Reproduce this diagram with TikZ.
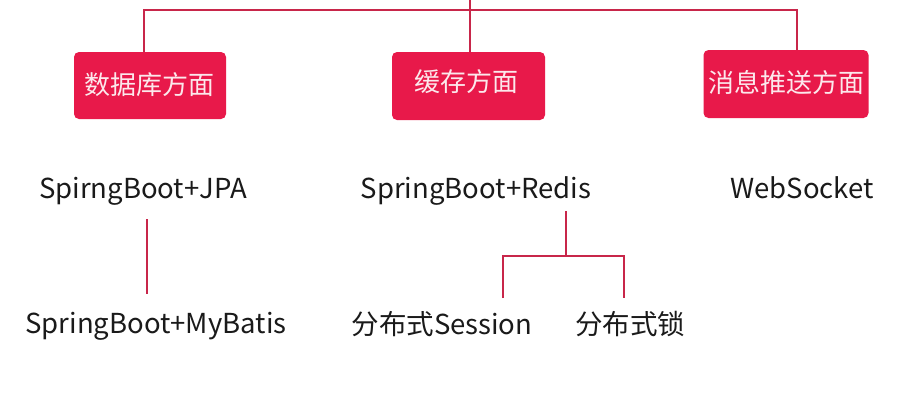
\documentclass[tikz,border=0pt]{standalone}
\usepackage{fontspec}
\setmainfont{Noto Sans CJK SC}
\definecolor{boxred}{HTML}{E8194A}
\definecolor{linered}{HTML}{C8264A}
\definecolor{txt}{HTML}{1A1A1A}
\definecolor{boxtxt}{HTML}{FCE8EC}
\begin{document}
\begin{tikzpicture}[x=1pt,y=-1pt,
  catbox/.style={draw=none,fill=boxred,rounded corners=5pt,inner sep=0pt},
  cattext/.style={text=boxtxt,font=\fontsize{26}{30}\selectfont,inner sep=0pt},
  leaf/.style={text=txt,font=\fontsize{27.5}{32}\selectfont,inner sep=0pt},
  conn/.style={draw=linered,line width=1.6pt}]
\useasboundingbox (0,0) rectangle (916,402);
\fill[white] (0,0) rectangle (916,402);
% category boxes
\node[catbox,minimum width=152pt,minimum height=67pt] (db) at (150,85.5) {};
\node[cattext] (dbt) at (149,85) {数据库方面};
\node[catbox,minimum width=153pt,minimum height=68pt] (cache) at (468.5,86) {};
\node[cattext] (cachet) at (466,82) {缓存方面};
\node[catbox,minimum width=165pt,minimum height=68pt] (msg) at (786,84) {};
\node[cattext] (msgt) at (786,83) {消息推送方面};
% top connector
\coordinate (top) at (470,0);
\coordinate (hl) at (144,10);
\coordinate (hr) at (797,10);
\draw[conn] (top) -- (top |- db.north);
\draw[conn] (db.north -| hl) -- (hl) -- (hr) -- (msg.north -| hr);
% leaves
\node[leaf] (jpa) at (143,191) {SpirngBoot+JPA};
\node[leaf] (redis) at (476,191) {SpringBoot+Redis};
\node[leaf] (ws) at (802,188) {WebSocket};
\node[leaf] (mybatis) at (156,326) {SpringBoot+MyBatis};
\node[leaf] (session) at (442,324) {分布式Session};
\node[leaf] (lock) at (630,324) {分布式锁};
% leaf connectors
\coordinate (j1) at (147,219);
\coordinate (j2) at (147,294);
\draw[conn] (j1) -- (j2);
\coordinate (r1) at (566,211);
\coordinate (r2) at (566,256);
\coordinate (rl) at (503,256);
\coordinate (rr) at (624,256);
\coordinate (rl2) at (503,298);
\coordinate (rr2) at (624,298);
\draw[conn] (r1) -- (r2);
\draw[conn] (rl2) -- (rl) -- (rr) -- (rr2);
\end{tikzpicture}
\end{document}
